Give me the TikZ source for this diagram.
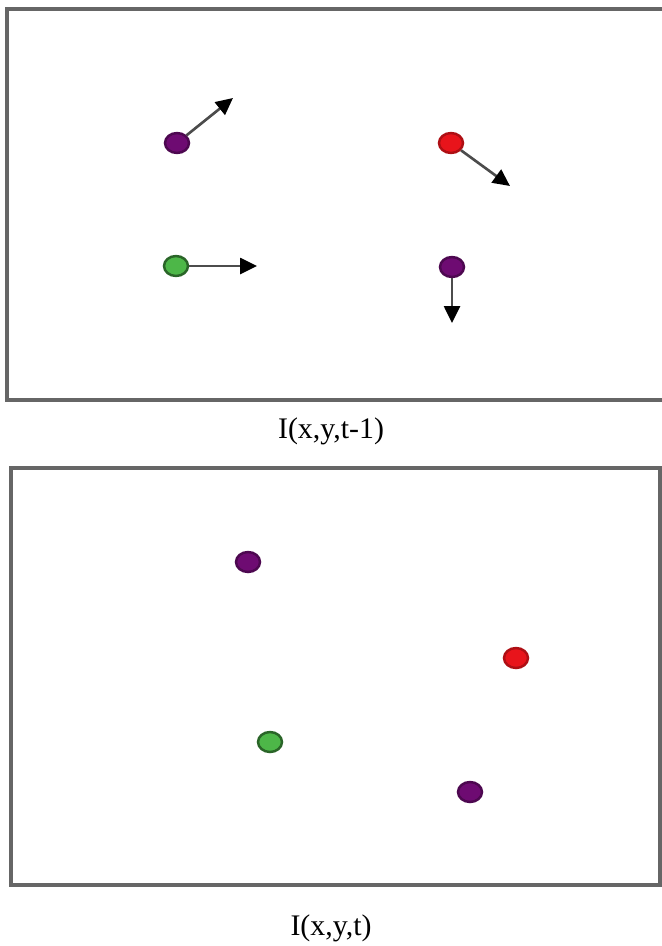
\documentclass[tikz,border=0pt]{standalone}
\usepackage{fontspec}
\setmainfont{Liberation Serif}
\usetikzlibrary{arrows.meta,shapes.geometric}
\definecolor{dotpurple}{HTML}{6E0B72}
\definecolor{dotred}{HTML}{E8141B}
\definecolor{dotgreen}{HTML}{4DB748}

\begin{document}
\begin{tikzpicture}[x=0.02cm,y=-0.02cm,
  >={Triangle[length=0.34cm,width=0.32cm,color=black]},
  every node/.style={font=\fontsize{17}{20}\selectfont},
  frame/.style={draw=black!60,line width=2.2pt},
  blob/.style={ellipse,draw,line width=1.4pt,minimum width=0.48cm,minimum height=0.4cm,inner sep=0pt},
  motion/.style={->,line width=1.5pt,draw=black!70}]
\useasboundingbox (0,0) rectangle (662,946);
% frame t-1
\draw[frame] (7,9) rectangle (664,400);
\node[blob,fill=dotpurple,draw=dotpurple!70!black] (pa) at (177,143) {};
\node[blob,fill=dotred,draw=dotred!75!black] (ra) at (451,143) {};
\node[blob,fill=dotgreen,draw=dotgreen!55!black] (ga) at (176,266) {};
\node[blob,fill=dotpurple,draw=dotpurple!70!black] (qa) at (452,267) {};
\coordinate (patip) at (233,98);
\coordinate (ratip) at (510,186);
\coordinate (gatip) at (257,266);
\coordinate (qatip) at (452,323);
\draw[motion] (pa) -- (patip);
\draw[motion] (ra) -- (ratip);
\draw[motion] (ga) -- (gatip);
\draw[motion] (qa) -- (qatip);
\node (la) at (331,431) {I(x,y,t-1)};
% frame t
\draw[frame] (11,468) rectangle (660,885);
\node[blob,fill=dotpurple,draw=dotpurple!70!black] (pb) at (248,562) {};
\node[blob,fill=dotred,draw=dotred!75!black] (rb) at (516,658) {};
\node[blob,fill=dotgreen,draw=dotgreen!55!black] (gb) at (270,742) {};
\node[blob,fill=dotpurple,draw=dotpurple!70!black] (qb) at (470,792) {};
\node (lb) at (331,928) {I(x,y,t)};
\end{tikzpicture}
\end{document}
